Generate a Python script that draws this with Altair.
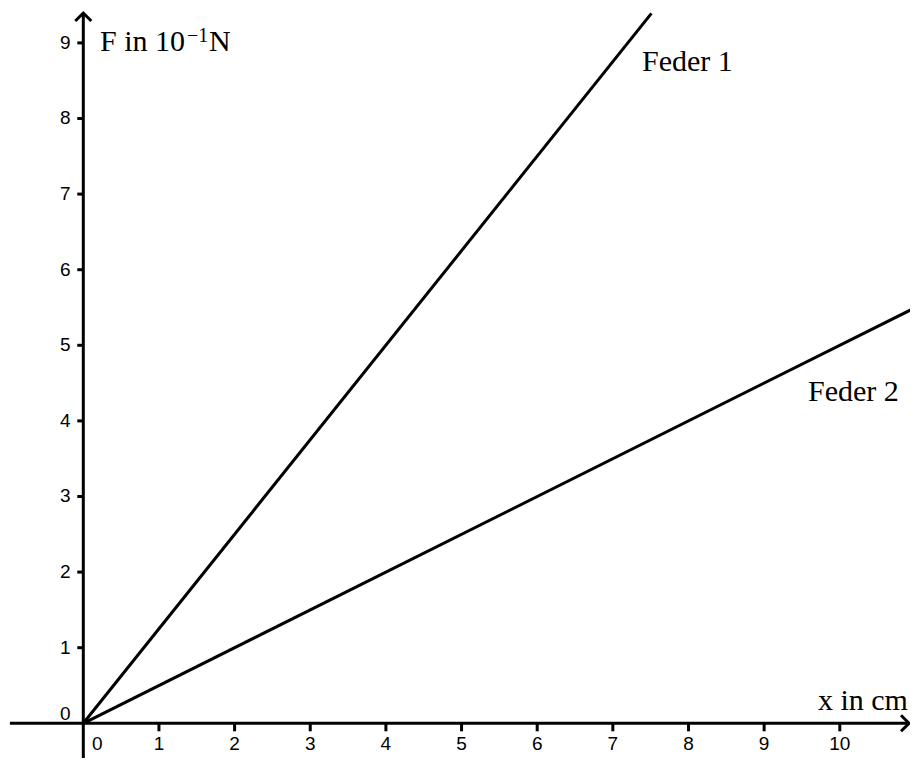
import altair as alt
import pandas as pd

# ---- data ----
x_ticks = [0, 1, 2, 3, 4, 5, 6, 7, 8, 9, 10]
y_ticks = [0, 1, 2, 3, 4, 5, 6, 7, 8, 9]

feder1_x = [0.0, 7.51]
feder1_F = [0.0, 9.39]
feder2_x = [0.0, 11.04]
feder2_F = [0.0, 5.52]

# axis extents (data units)
x_axis_from, x_axis_to = -0.97, 10.915
y_axis_from, y_axis_to = -0.70, 9.395

XDOM = [-0.9954, 10.928]
YDOM = [-0.459, 9.4616]

xs = alt.Scale(domain=XDOM, nice=False, zero=False)
ys = alt.Scale(domain=YDOM, nice=False, zero=False)

def X(f="x"):
    return alt.X(f"{f}:Q", scale=xs, axis=None)

def Y(f="y"):
    return alt.Y(f"{f}:Q", scale=ys, axis=None)

# lines
lines_df = pd.DataFrame({
    "x": feder1_x + feder2_x,
    "y": feder1_F + feder2_F,
    "s": ["Feder 1"] * len(feder1_x) + ["Feder 2"] * len(feder2_x),
})
lines = alt.Chart(lines_df).mark_line(color="black", strokeWidth=3, clip=True).encode(
    x=X(), y=Y(), detail="s:N"
)

# axes lines
xaxis = alt.Chart(pd.DataFrame({"x": [x_axis_from], "x2": [x_axis_to], "y": [0]})).mark_rule(
    color="black", strokeWidth=3
).encode(x=X(), x2="x2:Q", y=Y())
yaxis = alt.Chart(pd.DataFrame({"x": [0], "y": [y_axis_from], "y2": [y_axis_to]})).mark_rule(
    color="black", strokeWidth=3, clip=True
).encode(x=X(), y=Y(), y2="y2:Q")

# arrowheads
xarrow = alt.Chart(pd.DataFrame({"x": [x_axis_to], "y": [0]})).mark_point(
    shape="M-1,-1L0,0L-1,1", filled=False, size=256, strokeWidth=3, color="black", opacity=1
).encode(x=X(), y=Y())
yarrow = alt.Chart(pd.DataFrame({"x": [0], "y": [y_axis_to]})).mark_point(
    shape="M-1,1L0,0L1,1", filled=False, size=256, strokeWidth=3, color="black", opacity=1
).encode(x=X(), y=Y())

# tick marks
xt_df = pd.DataFrame({"x": x_ticks[1:], "y": [0] * len(x_ticks[1:])})
yt_df = pd.DataFrame({"x": [0] * len(y_ticks[1:]), "y": y_ticks[1:]})
xtick = alt.Chart(xt_df).mark_tick(
    orient="vertical", size=8, thickness=3, color="black", opacity=1, yOffset=4
).encode(x=X(), y=Y())
ytick = alt.Chart(yt_df).mark_tick(
    orient="horizontal", size=6, thickness=3, color="black", opacity=1, xOffset=-3
).encode(x=X(), y=Y())

# tick labels
FONT = "Liberation Sans"
FS = 19
xl_df = pd.DataFrame({"x": x_ticks[1:], "y": [0] * len(x_ticks[1:]),
                      "t": [str(v) for v in x_ticks[1:]]})
yl_df = pd.DataFrame({"x": [0] * len(y_ticks[1:]), "y": y_ticks[1:],
                      "t": [str(v) for v in y_ticks[1:]]})
xlab = alt.Chart(xl_df).mark_text(
    font=FONT, fontSize=FS, color="black", baseline="middle", align="center", dy=21
).encode(x=X(), y=Y(), text="t:N")
ylab = alt.Chart(yl_df).mark_text(
    font=FONT, fontSize=FS, color="black", baseline="middle", align="center", dx=-18
).encode(x=X(), y=Y(), text="t:N")
x0lab = alt.Chart(pd.DataFrame({"x": [0], "y": [0], "t": ["0"]})).mark_text(
    font=FONT, fontSize=FS, color="black", baseline="middle", align="center", dx=14, dy=21
).encode(x=X(), y=Y(), text="t:N")
y0lab = alt.Chart(pd.DataFrame({"x": [0], "y": [0], "t": ["0"]})).mark_text(
    font=FONT, fontSize=FS, color="black", baseline="middle", align="center", dx=-18, dy=-9
).encode(x=X(), y=Y(), text="t:N")

# annotations (serif)
SERIF = "Liberation Serif"
ann_left = pd.DataFrame({
    "x": [0.221, 1.662, 7.385, 9.580],
    "y": [8.893, 8.893, 8.628, 4.263],
    "t": ["F in 10", "N", "Feder 1", "Feder 2"],
})
ann = alt.Chart(ann_left).mark_text(
    font=SERIF, fontSize=30, color="black", baseline="alphabetic", align="left"
).encode(x=X(), y=Y(), text="t:N")
sup = alt.Chart(pd.DataFrame({"x": [1.371], "y": [9.012], "t": ["\u22121"]})).mark_text(
    font=SERIF, fontSize=20, color="black", baseline="alphabetic", align="left"
).encode(x=X(), y=Y(), text="t:N")
xtitle = alt.Chart(pd.DataFrame({"x": [10.90], "y": [0.176], "t": ["x in cm"]})).mark_text(
    font=SERIF, fontSize=30, color="black", baseline="alphabetic", align="right"
).encode(x=X(), y=Y(), text="t:N")

chart = alt.layer(
    lines, xaxis, yaxis, xarrow, yarrow, xtick, ytick,
    xlab, ylab, x0lab, y0lab, ann, sup, xtitle
).properties(
    width=902, height=750, padding=0,
    autosize=alt.AutoSizeParams(type="none"),
    background="white",
).configure_view(stroke=None)

chart.save("out.html", embed_options={"renderer": "svg", "actions": False})
